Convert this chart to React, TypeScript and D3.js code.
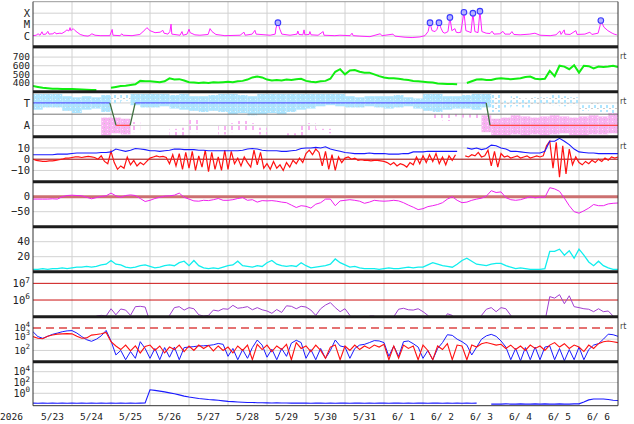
import React from 'react';
import * as d3 from 'd3';

type P = [number, number | null];

// ---------- labels ----------
const YEAR = '2026';
const DAYS = ['5/23', '5/24', '5/25', '5/26', '5/27', '5/28', '5/29', '5/30', '5/31', '6/ 1', '6/ 2', '6/ 3', '6/ 4', '6/ 5', '6/ 6'];
const xrayTickVals = [1e-4, 1e-5, 1e-6];
const xrayTickLabels = ['X', 'M', 'C'];
const speedTicks = [700, 600, 500, 400];
const speedGrid = [400, 500, 600, 700, 800];
const bzTicks = [10, 0, -10];
const dstTicks = [0, -50];
const denTicks = [40, 20];
const p6Exp = [7, 6];
const p7Exp = [4, 3, 2];
const p8Exp = [4, 2, 0];

// ---------- data (time in days from 5/23 00:00) ----------
const xrayFlux: [number, number][] = [
  [0, 1.1e-6], [0.08, 1.2e-6], [0.13, 1.6e-6], [0.18, 1.2e-6], [0.23, 2.4e-6], [0.26, 1.4e-6], [0.33, 1.5e-6], [0.38, 2.6e-6], [0.41, 1.5e-6], [0.51, 1.6e-6], [0.56, 2.2e-6], [0.59, 1.6e-6], [0.69, 1.8e-6], [0.74, 1.7e-6], [0.82, 2.5e-6], [0.87, 3.5e-6], [0.92, 2.8e-6], [0.95, 5.5e-6], [0.97, 3e-6],
  [1.03, 4.5e-6], [1.08, 3e-6], [1.13, 2.2e-6], [1.21, 1.4e-6], [1.31, 1.1e-6], [1.41, 1e-6], [1.46, 1.2e-6], [1.51, 1.6e-6], [1.59, 1.2e-6], [1.72, 1.1e-6], [1.97, 1.1e-6],
  [2.03, 3.8e-6], [2.05, 1.2e-6], [2.23, 1.1e-6], [2.28, 1.6e-6], [2.31, 1.2e-6], [2.54, 1.1e-6], [2.74, 1.4e-6], [2.87, 3.5e-6], [2.92, 5.5e-6],
  [3.0, 3e-6], [3.13, 2e-6], [3.26, 2.2e-6], [3.33, 3.2e-6], [3.36, 1.8e-6], [3.46, 1.5e-6], [3.51, 2.5e-6], [3.54, 1.1e-5], [3.56, 1.5e-6], [3.77, 1.2e-6], [3.82, 2.5e-6], [3.85, 1.2e-6], [3.95, 1.5e-6],
  [4.0, 4e-6], [4.03, 2e-6], [4.15, 1.3e-6], [4.28, 1.2e-6], [4.49, 1.4e-6], [4.54, 4.5e-6], [4.59, 2.5e-6], [4.69, 1.4e-6], [4.92, 1.1e-6],
  [5.31, 1.2e-6], [5.41, 2.2e-6], [5.44, 1.2e-6], [5.62, 1.5e-6], [5.69, 3.2e-6], [5.72, 1.5e-6],
  [6.08, 1.2e-6], [6.21, 1.5e-6], [6.23, 5e-6], [6.28, 1.5e-5], [6.33, 4e-6], [6.38, 1.5e-6], [6.59, 1.2e-6], [6.77, 1.5e-6], [6.79, 2.8e-6], [6.82, 1.4e-6], [6.92, 1.3e-6], [6.95, 3.5e-6], [6.97, 1.3e-6],
  [7.08, 1.4e-6], [7.1, 2.5e-6], [7.13, 1.3e-6], [7.31, 1.2e-6], [7.44, 2.5e-6], [7.46, 1.2e-6], [7.74, 1.1e-6], [7.87, 1.2e-6],
  [8.13, 1.1e-6], [8.18, 1.8e-6], [8.21, 1.1e-6], [8.38, 1e-6], [8.64, 9e-7], [8.9, 1.6e-6], [8.95, 1.1e-6],
  [9.23, 1.5e-6], [9.28, 1e-6], [9.54, 8e-7], [9.72, 7.5e-7], [9.92, 8.5e-7],
  [10.05, 1.1e-6], [10.13, 2.5e-6], [10.18, 1.5e-5], [10.23, 3e-6], [10.31, 2.5e-6], [10.36, 4e-6], [10.41, 1.5e-5], [10.46, 5e-6], [10.51, 2.2e-6], [10.56, 1.8e-6], [10.64, 2.5e-6], [10.69, 4.3e-5], [10.74, 3e-6], [10.82, 4.5e-6], [10.85, 2.2e-6], [10.9, 2e-6], [10.97, 2.2e-6],
  [11.05, 1.2e-4], [11.1, 3e-6], [11.18, 2.4e-6], [11.23, 2e-6], [11.28, 1e-4], [11.33, 2.5e-6], [11.41, 2e-6], [11.46, 1.5e-4], [11.51, 2.5e-6], [11.62, 1.8e-6], [11.72, 1.7e-6], [11.77, 2.7e-6], [11.82, 1.5e-6], [11.97, 1.6e-6],
  [12.05, 2.6e-6], [12.1, 1.5e-6], [12.23, 1.5e-6], [12.28, 2.5e-6], [12.33, 1.4e-6], [12.49, 1.3e-6], [12.74, 1.5e-6], [12.87, 1.8e-6],
  [13.0, 1.2e-6], [13.26, 1.1e-6], [13.41, 1.3e-6], [13.51, 2.8e-6], [13.54, 1.4e-6], [13.62, 3.5e-6], [13.64, 1.5e-6], [13.77, 1.4e-6], [13.92, 3e-6], [13.95, 1.4e-6],
  [14.15, 1.5e-6], [14.28, 2.2e-6], [14.33, 1.4e-6], [14.49, 1.8e-6], [14.54, 8e-6], [14.56, 2.3e-5], [14.64, 6e-6], [14.74, 3e-6], [14.85, 1.8e-6], [14.9, 1.5e-6], [14.97, 1.3e-6],
];

// 3-hourly (8 per day) + final point
const speed: (number | null)[] = [
  365, 355, 345, 340, 335, 335, 332, 330,
  330, 328, 325, 322, 320, 320, null, null,
  345, 355, 365, 370, 378, 385, 425, 420,
  420, 415, 410, 420, 455, 440, 445, 430,
  410, 405, 400, 405, 400, 410, 405, 410,
  415, 410, 420, 425, 440, 465, 475, 465,
  440, 430, 435, 430, 440, 435, 445, 450,
  425, 415, 410, 420, 425, 450, 530, 560,
  500, 545, 550, 530, 520, 520, 500, 480,
  465, 455, 455, 450, 440, 435, 425, 420,
  415, 410, 405, 395, 392, 390, 388, 385,
  null, 400, 420, 440, 445, 435, 435, 450,
  455, 450, 445, 450, 455, 470, 475, 450,
  445, 450, 540, 480, 600, 590, 560, 605,
  520, 600, 595, 570, 590, 585, 590, 600,
  585,
];

const bt: (number | null)[] = [
  4, 4, 4, 4, 4, 4.5, 4.5, 4.5,
  5, 5.5, 5.5, 5.5, 5.5, 5.5, 6, 6,
  6.5, 9, 8, 7, 8, 9.5, 9, 8.5,
  7.5, 7.5, 7, 7.5, 8, 9, 9, 8.5,
  8.5, 8.5, 8, 8, 7.5, 7.5, 7.5, 7.5,
  7.5, 7.5, 7.5, 8, 9, 9.5, 9, 8,
  7.5, 7.5, 7.5, 7, 7, 7.5, 8, 9.5,
  10, 10, 10.5, 10, 11, 9, 8, 7,
  6, 5.5, 5, 5, 5, 5.5, 5, 5,
  5, 4.5, 4.5, 4.5, 5, 5, 6.5, 6.5,
  6.5, 7, 7, 7, 7, 7, 7, 7,
  null, 10, 9, 10, 8.5, 9.5, 12.5, 12,
  10, 9, 7, 7, 6.5, 6, 5.5, 5.5,
  5.5, 7, 16, 16, 18.5, 16, 13, 9,
  6.5, 6, 5.5, 5.5, 5, 5, 5, 5,
  5,
];

// 2-hourly (12 per day) + final point
const bz: (number | null)[] = [
  0, -1, -1.5, -2, -2, -1.5, -1.5, -1, -0.5, 0, 1, 1,
  1.5, 2, 2, 1.5, 2, 2.5, 2, 1.5, 0, 3, -2, -4,
  7, -3, -9, -6, -8, 2, -5, -1, -6, -3, -5, -2,
  1, 2, 3, 2, 2.5, 1.5, -4, 4, -6, 5, -9, 6,
  -8, 7, -10, 3, -7, 8, -11, 6, -9, 2, -10, 8,
  -9, 7, -4, 1, -6, 2, -3, -7, 8, -5, 6, -8,
  -4, -9, -2, -8, -5, -10, -3, -7, -1, -4, 1, -3,
  5, 8, 4, 9, 6, -6, 7, -9, 4, -10, 2, -3,
  1, 2, 0, 1, -1, -0.5, -1, -1, -1.5, -1, -1, -1.5,
  -2, -3, -5, -3, -6, -4, -5, -7, -3, -5, 2, -4,
  3, -3, 4, -2, 5, -4, 2, -5, 3, -1, 4, null,
  null, 3, 2, 4, 3, 6, 2, 3, 8, -6, 7, -7,
  5, 2, 3, 1, 2, 3, 1, 2, 3, 1, 2, 3,
  2, 3, 12, 16, -8, 15, -16, 12, -13, 9, -5, 2,
  -3, -5, -2, -4, -1, -3, 0, -2, 1, -1, 2, 1,
  2,
];

const dst: (number | null)[] = [
  -8, -8, -8, -8, -7, -8, 0, 4,
  5, 4, 3, -2, -7, -3, 1, 3,
  12, 3, -2, 4, 6, 4, -6, -16,
  -12, -6, -2, 2, 3, 5, 12, -2,
  -8, -14, -15, -12, -13, -10, -6, -12,
  -12, -10, -6, -3, -12, -10, -18, -13,
  -14, -13, -15, -18, -20, -28, -36, -30,
  -32, -38, -25, -20, -8, -8, -30, -14,
  -12, -10, -12, -15, -22, -18, -12, -14,
  -15, -14, -12, -14, -20, -28, -35, -43,
  -40, -33, -30, -26, -20, -8, 0, -12,
  -20, -18, -12, -8, -5, 2, 20, 14,
  16, -3, -10, -12, -10, -5, 0, -4,
  -1, -2, 30, 26, 18, -5, -30, -50,
  -55, -47, -38, -26, -30, -30, -24, -22,
  -21,
];

const density: (number | null)[] = [
  3, 3, 4, 3, 4, 4, 5, 4,
  5, 6, 6, 7, 6, 7, 9, 10,
  15, 10, 9, 6, 5, 6, 8, 9,
  7, 5, 6, 8, 9, 8, 12, 14,
  8, 15, 8, 5, 4, 5, 4, 6,
  8, 9, 14, 8, 7, 6, 8, 7,
  12, 15, 10, 8, 7, 8, 7, 12,
  8, 5, 6, 7, 8, 10, 17, 12,
  9, 6, 7, 5, 4, 4, 4, 3,
  4, 5, 4, 4, 5, 6, 5, 6,
  6, 9, 12, 10, 8, 7, 6, 10,
  15, 18, 14, 10, 9, 8, 10, 11,
  11, 8, 6, 4, 5, 4, 3, 3,
  3, 4, 27, 27, 30, 22, 28, 18,
  30, 22, 13, 8, 14, 8, 5, 3,
  3,
];

const purple: (number | null)[] = [
  5e4, 5e4, 5e4, 5e4, 5e4, 5e4, 5e4, 5e4,
  5e4, 5e4, 5e4, 1.1e5, 5e4, 1.1e5, 1.2e5, 1.1e5,
  3e5, 1.3e5, 2.9e5, 2.5e5, 1.2e5, 4e5, 4.2e5, 3.8e5,
  5e4, 5e4, 5e4, 5e4, 1.2e5, 3.5e5, 4e5, 2.5e5,
  3.5e5, 3e5, 1.3e5, 1.1e5, 1.2e5, 2.5e5, 2.2e5, 3e5,
  2.8e5, 4.8e5, 3.2e5, 3.5e5, 4e5, 2.6e5, 3.5e5, 2.6e5,
  2.2e5, 1.6e5, 2.7e5, 1.8e5, 4.5e5, 4.2e5, 3e5, 4.2e5,
  3.8e5, 2.5e5, 1.2e5, 3e5, 5e5, 7e5, 3.5e5, 2e5,
  3e5, 1.2e5, 5e4, 5e4, 5e4, 1.1e5, 1.1e5, 5e4,
  5e4, 5e4, 1e5, 2.8e5, 3.2e5, 2.6e5, 2.5e5, 3e5,
  2e5, 1.2e5, 5e4, 5e4, 5e4, 1.5e5, 1.2e5, 5e4,
  5e4, 5e4, 5e4, 5e4, 1.2e5, 2.8e5, 3.5e5, 2e5,
  3.5e5, 3e5, 1.2e5, 5e4, 5e4, 5e4, 5e4, 5e4,
  5e4, 5e4, 1.6e6, 1.3e6, 2.1e6, 6e5, 1.8e6, 4e5,
  3.5e5, 3e5, 2.8e5, 2e5, 3e5, 2e5, 2.2e5, 1.1e5,
  5e4,
];

const fluxBlue: (number | null)[] = [
  4.6e3, 1.7e3, 1.2e3, 1.8e3, 2.7e3, 3.5e3, 4.6e3, 5.5e3,
  5.8e3, 3.5e3, 1.7e3, 900, 650, 1e3, 2e3, 6e3,
  700, 40, 100, 15, 80, 20, 600, 150,
  20, 150, 15, 180, 25, 200, 15, 180,
  200, 220, 250, 260, 280, 320, 420, 350,
  30, 150, 15, 120, 20, 180, 850, 300,
  25, 130, 15, 150, 30, 450, 800, 500,
  20, 120, 15, 150, 20, 100, 850, 250,
  200, 20, 150, 300, 350, 500, 750, 700,
  500, 30, 250, 30, 600, 700, 400, 200,
  20, 100, 15, 150, 500, 2.5e3, 2.2e3, 1e3,
  600, 300, 40, 200, 1e3, 2e3, 2.7e3, 1.8e3,
  700, 200, 15, 150, 12, 180, 15, 200,
  15, 200, 250, 15, 150, 12, 120, 15,
  200, 15, 120, 300, 400, 1e3, 2.8e3, 2.5e3,
  1.8e3,
];

const fluxRed: (number | null)[] = [
  1.7e3, 1.2e3, 1.1e3, 1.8e3, 2.4e3, 2.8e3, 3e3, 3.1e3,
  3e3, 1.8e3, 1.2e3, 1.3e3, 2.3e3, 2.6e3, 3e3, 4e3,
  600, 250, 120, 300, 90, 250, 60, 220,
  300, 100, 250, 60, 200, 120, 300, 80,
  250, 100, 300, 150, 280, 90, 250, 100,
  200, 60, 250, 100, 300, 15, 350, 120,
  300, 80, 250, 120, 350, 15, 500, 150,
  250, 80, 300, 100, 20, 200, 300, 15,
  250, 100, 300, 120, 250, 150, 300, 200,
  350, 15, 250, 20, 300, 150, 250, 15,
  300, 100, 15, 250, 120, 400, 15, 300,
  250, 15, 300, 200, 400, 500, 400, 300,
  350, 150, 300, 120, 250, 100, 300, 150,
  250, 100, 300, 500, 200, 400, 150, 300,
  200, 80, 300, 150, 400, 600, 700, 600,
  500,
];

const protonLow: (number | null)[] = [
  0.015, 0.014, 0.016, 0.014, 0.015, 0.014, 0.015, 0.014,
  0.015, 0.014, 0.016, 0.014, 0.015, 0.014, 0.015, 0.014,
  0.015, 0.014, 0.016, 0.014, 0.015, 0.014, 0.015, 0.016,
  4.5, 3.5, 2.5, 1.8, 1.2, 0.8, 0.5, 0.3,
  0.2, 0.15, 0.11, 0.09, 0.07, 0.06, 0.05, 0.04,
  0.032, 0.028, 0.025, 0.022, 0.02, 0.02, 0.018, 0.018,
  0.017, 0.016, 0.017, 0.016, 0.016, 0.015, 0.016, 0.015,
  0.015, 0.014, 0.015, 0.016, 0.014, 0.015, 0.014, 0.015,
  0.015, 0.014, 0.015, 0.016, 0.014, 0.015, 0.014, 0.015,
  0.015, 0.014, 0.015, 0.016, 0.014, 0.015, 0.014, 0.015,
  0.015, 0.014, 0.015, 0.016, 0.014, 0.015, 0.014, 0.015,
  0.014, 0.015, 0.014, 0.015, null, null, 0.01, 0.01,
  0.01, 0.011, 0.01, 0.01, 0.011, 0.01, 0.01, 0.011,
  0.01, 0.011, 0.01, 0.01, 0.011, 0.01, 0.01, 0.011,
  0.011, 0.025, 0.06, 0.09, 0.09, 0.085, 0.07, 0.05,
  0.045,
];

// IMF sector clouds, 6-hourly bins [lo, hi, dense?]; T = +1, A = -1
const towardBand: ([number, number, number] | null)[] = [
  [0.4, 1.8, 1], [0.6, 1.8, 1], [0.6, 1.8, 1], [0.3, 1.6, 1],
  [0.1, 1.5, 1], [0.4, 1.6, 1], [0.5, 1.5, 1], [0.2, 1.7, 1],
  [1.0, 1.8, 0], [1.2, 1.8, 0], [0.8, 1.8, 1], [0.6, 1.8, 1],
  [0.6, 1.8, 1], [0.7, 1.8, 1], [0.5, 1.7, 1], [0.4, 1.8, 1],
  [0.3, 1.6, 1], [0.2, 1.6, 1], [0.3, 1.7, 1], [0.2, 1.8, 1],
  [0.0, 1.8, 1], [0.1, 1.7, 1], [-0.1, 1.6, 1], [0.0, 1.8, 1],
  [0.1, 1.8, 1], [0.0, 1.8, 1], [0.2, 1.8, 1], [0.4, 1.8, 1],
  [0.5, 1.8, 1], [0.7, 1.8, 1], [0.8, 1.8, 1], [0.7, 1.8, 1],
  [0.6, 1.6, 1], [0.6, 1.5, 1], [0.7, 1.6, 1], [0.6, 1.6, 1],
  [0.5, 1.6, 1], [0.6, 1.7, 1], [0.7, 1.5, 1], [0.5, 1.4, 1],
  [0.3, 1.8, 1], [0.2, 1.8, 1], [0.4, 1.6, 1], [0.5, 1.6, 1],
  [0.5, 1.7, 1], [0.4, 1.8, 1], [0.6, 1.8, 1], [0.2, 1.8, 0],
  [0.6, 1.2, 0], [0.7, 1.6, 0], [0.6, 1.4, 0], [0.9, 1.5, 0],
  [0.9, 1.5, 0], [0.8, 1.7, 0], [0.7, 1.6, 0], [0.8, 1.5, 0],
  [0.3, 0.8, 0], [0.4, 1.0, 0], [0.2, 0.9, 0], [0.1, 0.9, 0],
];
const awayBand: ([number, number, number] | null)[] = [
  null, null, null, null,
  null, null, null, [-1.9, -0.3, 1],
  [-1.7, -0.3, 1], [-1.8, -0.4, 1], [-1.6, -0.7, 0], null,
  null, null, [-1.9, -1.3, 0], [-1.9, -1.2, 0],
  [-1.6, -0.5, 0], null, null, [-1.8, -1.0, 0],
  [-1.6, -0.8, 0], [-1.5, -0.6, 0], [-1.5, -0.8, 0], [-1.8, -1.2, 0],
  null, null, [-1.9, -1.7, 0], [-1.9, -1.0, 0],
  [-1.5, -0.8, 0], [-1.5, -1.3, 0], [-1.7, -1.3, 0], null,
  null, null, null, null,
  null, null, null, null,
  null, [-0.4, 0.0, 0], [-0.6, 0.1, 0], [-0.2, 0.1, 0],
  [-0.3, 0.0, 0], [-0.5, 0.0, 0], [-1.6, -0.1, 1], [-1.9, -0.4, 1],
  [-1.9, -0.3, 1], [-1.8, -0.1, 1], [-1.9, -0.2, 1], [-1.8, -0.3, 1],
  [-1.9, -0.2, 1], [-1.8, -0.1, 1], [-1.7, -0.2, 1], [-1.9, -0.3, 1],
  [-1.9, -0.2, 1], [-1.8, -0.1, 1], [-1.8, -0.2, 1], [-1.7, 0.1, 1],
];
const sectorLine: [number, number][] = [
  [0, 1], [1.97, 1], [2.13, -1], [2.49, -1], [2.62, 1], [11.62, 1], [11.72, -1], [15, -1],
];

// ---------- layout ----------
const X0 = 33;
const X1 = 618;
const top = (i: number) => 1.7 + 45 * i;
const bot = (i: number) => (i === 8 ? 405.7 : 1.7 + 45 * (i + 1));
const FONT = "'DejaVu Sans Mono', monospace";
const GRID = '#d2d2d2';

const grid = (vals: (number | null)[], perDay: number): P[] => vals.map((v, i) => [i / perDay, v]);

export default function App() {
  const x = d3.scaleLinear().domain([0, 15]).range([X0, X1]);
  const yX = d3.scaleLog().domain([1.2e-7, 1e-3]).range([bot(0), top(0)]);
  const yS = d3.scaleLinear().domain([300, 820]).range([bot(1), top(1)]);
  const yTA = d3.scaleLinear().domain([-2, 2]).range([bot(2), top(2)]);
  const yB = d3.scaleLinear().domain([-20, 20]).range([bot(3), top(3)]);
  const yD = d3.scaleLinear().domain([-100, 50]).range([bot(4), top(4)]);
  const yN = d3.scaleLinear().domain([0, 60]).range([bot(5), top(5)]);
  const y6 = d3.scaleLog().domain([1e5, 5e7]).range([bot(6), top(6)]);
  const y7 = d3.scaleLog().domain([10, 1e5]).range([bot(7), top(7)]);
  const y8 = d3.scaleLog().domain([Math.pow(10, -2.3), Math.pow(10, 5.85)]).range([bot(8), top(8)]);

  const mk = (ys: (v: number) => number) =>
    d3
      .line<P>()
      .defined((d) => d[1] != null)
      .x((d) => x(d[0]))
      .y((d) => ys(d[1] as number));

  const xrayPath = mk(yX)(xrayFlux as P[]) || '';
  const flares = xrayFlux.filter((d) => d[1] >= 1.4e-5);

  const hline = (y: number, stroke: string, w = 1, dash?: string, key?: string) => (
    <line key={key} x1={X0} x2={X1} y1={y} y2={y} stroke={stroke} strokeWidth={w} strokeDasharray={dash} />
  );
  const label = (yy: number, t: string, key: string, fs = 10.5) => (
    <text key={key} x={30} y={yy + fs * 0.35} textAnchor="end" fontFamily={FONT} fontSize={fs} fill="#222">
      {t}
    </text>
  );
  const powLabel = (yy: number, e: number, key: string, fs = 10.5) => (
    <text key={key} x={30} y={yy + fs * 0.36} textAnchor="end" fontFamily={FONT} fontSize={fs} fill="#222">
      10<tspan dy={-4.5} fontSize={fs * 0.75}>{e}</tspan>
    </text>
  );

  const bandRects = (band: ([number, number, number] | null)[], color: string) =>
    band.map((b, i) =>
      b ? (
        <rect
          key={color + i}
          x={x(i / 4)}
          width={x((i + 1) / 4) - x(i / 4)}
          y={yTA(b[1])}
          height={yTA(b[0]) - yTA(b[1])}
          fill={`url(#${color}${b[2] ? 'D' : 'S'})`}
        />
      ) : null,
    );

  const sectorSegs = sectorLine.slice(1).map((p, i) => {
    const a = sectorLine[i];
    const col = a[1] === 1 && p[1] === 1 ? '#5a5aff' : a[1] === -1 && p[1] === -1 ? '#ff4a4a' : '#3f6f3f';
    return <line key={'sec' + i} x1={x(a[0])} x2={x(p[0])} y1={yTA(a[1])} y2={yTA(p[1])} stroke={col} strokeWidth={1.3} />;
  });

  return (
    <div style={{ position: 'fixed', left: 0, top: 0 }}>
      <svg width={634} height={424} style={{ display: 'block', background: '#fff' }}>
        <defs>
          {Array.from({ length: 9 }, (_, i) => (
            <clipPath id={'c' + i} key={'c' + i}>
              <rect x={X0} y={top(i)} width={X1 - X0} height={bot(i) - top(i)} />
            </clipPath>
          ))}
          <pattern id="blueD" width={5} height={4} patternUnits="userSpaceOnUse">
            <rect x={0} y={0} width={5} height={4} fill="#ade5ff" />
            <rect x={3} y={2} width={1} height={1} fill="#c4d4dc" />
            <rect x={0} y={3} width={1} height={1} fill="#e4f6ff" />
          </pattern>
          <pattern id="blueS" width={6} height={5} patternUnits="userSpaceOnUse">
            <rect x={0} y={0} width={2} height={3} fill="#ade5ff" />
            <rect x={3} y={3} width={2} height={1} fill="#cccccc" />
          </pattern>
          <pattern id="pinkD" width={5} height={4} patternUnits="userSpaceOnUse">
            <rect x={0} y={0} width={5} height={4} fill="#f8b2f2" />
            <rect x={2} y={1} width={1} height={1} fill="#fde6fb" />
            <rect x={4} y={3} width={1} height={1} fill="#d0c4cc" />
          </pattern>
          <pattern id="pinkS" width={7} height={6} patternUnits="userSpaceOnUse">
            <rect x={0} y={0} width={2} height={4} fill="#f8b2f2" />
          </pattern>
        </defs>

        {/* vertical day grid */}
        {d3.range(1, 15).map((d) => (
          <line key={'vg' + d} x1={x(d)} x2={x(d)} y1={top(0)} y2={bot(8)} stroke={GRID} strokeWidth={1} />
        ))}

        {/* horizontal grid */}
        {xrayTickVals.map((v, i) => hline(yX(v), GRID, 1, undefined, 'gx' + i))}
        {speedGrid.map((v, i) => hline(yS(v), GRID, 1, undefined, 'gs' + i))}
        {[1, -1].map((v, i) => hline(yTA(v), GRID, 1, undefined, 'gt' + i))}
        {[10, -10].map((v, i) => hline(yB(v), GRID, 1, undefined, 'gb' + i))}
        {[-50].map((v, i) => hline(yD(v), GRID, 1, undefined, 'gd' + i))}
        {[20, 40].map((v, i) => hline(yN(v), GRID, 1, undefined, 'gn' + i))}
        {[2, 3].map((e, i) => hline(y7(Math.pow(10, e)), GRID, 1, undefined, 'g7' + i))}
        {[0, 2, 4].map((e, i) => hline(y8(Math.pow(10, e)), GRID, 1, undefined, 'g8' + i))}

        {/* panel 0: X-ray */}
        <g clipPath="url(#c0)">
          <path d={xrayPath} fill="none" stroke="#ff22ff" strokeWidth={1} />
          {flares.map((f, i) => (
            <circle key={'fl' + i} cx={x(f[0])} cy={yX(f[1])} r={2.8} fill="#b4b4ff" stroke="#3a3aff" strokeWidth={1.1} />
          ))}
        </g>

        {/* panel 1: speed */}
        <g clipPath="url(#c1)">
          <path d={mk(yS)(grid(speed, 8)) || ''} fill="none" stroke="#11ee11" strokeWidth={2} />
        </g>

        {/* panel 2: sector */}
        <g clipPath="url(#c2)">
          {bandRects(towardBand, 'blue')}
          {bandRects(awayBand, 'pink')}
          {hline(yTA(0), '#777', 1, undefined, 'mid')}
          {sectorSegs}
        </g>

        {/* panel 3: IMF */}
        <g clipPath="url(#c3)">
          {hline(yB(0), '#990000', 1, undefined, 'bz0')}
          <path d={mk(yB)(grid(bz, 12)) || ''} fill="none" stroke="#ff1111" strokeWidth={1.2} />
          <path d={mk(yB)(grid(bt, 8)) || ''} fill="none" stroke="#1a1aff" strokeWidth={1.1} />
        </g>

        {/* panel 4: Dst */}
        <g clipPath="url(#c4)">
          {hline(yD(0), '#cc7070', 3, undefined, 'd0')}
          <path d={mk(yD)(grid(dst, 8)) || ''} fill="none" stroke="#ee22ee" strokeWidth={1} />
        </g>

        {/* panel 5: density */}
        <g clipPath="url(#c5)">
          <path d={mk(yN)(grid(density, 8)) || ''} fill="none" stroke="#11eeee" strokeWidth={1.3} />
        </g>

        {/* panel 6 */}
        <g clipPath="url(#c6)">
          {hline(y6(1e7), '#cc1111', 1, undefined, 'r7')}
          {hline(y6(1e6), '#cc1111', 1, undefined, 'r6')}
          <path d={mk(y6)(grid(purple, 8)) || ''} fill="none" stroke="#a040d0" strokeWidth={1} />
        </g>

        {/* panel 7 */}
        <g clipPath="url(#c7)">
          {hline(y7(1e4), '#dd4444', 1.4, '8,5', 'dash')}
          <path d={mk(y7)(grid(fluxBlue, 8)) || ''} fill="none" stroke="#1a1aff" strokeWidth={1} />
          <path d={mk(y7)(grid(fluxRed, 8)) || ''} fill="none" stroke="#ff1111" strokeWidth={1.1} />
        </g>

        {/* panel 8 */}
        <g clipPath="url(#c8)">
          <path d={mk(y8)(grid(protonLow, 8)) || ''} fill="none" stroke="#1a1aff" strokeWidth={1.1} />
        </g>

        {/* frame */}
        <line x1={X0} x2={X1} y1={top(0)} y2={top(0)} stroke="#999" strokeWidth={1} />
        <line x1={X0} x2={X0} y1={top(0)} y2={bot(8)} stroke="#333" strokeWidth={1} />
        <line x1={X1} x2={X1} y1={top(0)} y2={bot(8)} stroke="#333" strokeWidth={1} />
        <line x1={X0} x2={X1} y1={bot(8)} y2={bot(8)} stroke="#333" strokeWidth={1} />
        {d3.range(0, 8).map((i) => (
          <line key={'sep' + i} x1={X0} x2={X1} y1={bot(i)} y2={bot(i)} stroke="#1c1c1c" strokeWidth={3} />
        ))}

        {/* y labels */}
        {xrayTickVals.map((v, i) => label(yX(v), xrayTickLabels[i], 'lx' + i))}
        {speedTicks.map((v, i) => label(yS(v), String(v), 'ls' + i, 9.5))}
        {label(yTA(1), 'T', 'lt')}
        {label(yTA(-1), 'A', 'la')}
        {bzTicks.map((v, i) => label(yB(v), v < 0 ? '−' + Math.abs(v) : String(v), 'lb' + i))}
        {dstTicks.map((v, i) => label(yD(v), v < 0 ? '−' + Math.abs(v) : String(v), 'ld' + i))}
        {denTicks.map((v, i) => label(yN(v), String(v), 'ln' + i))}
        {p6Exp.map((e, i) => powLabel(y6(Math.pow(10, e)), e, 'p6' + i))}
        {p7Exp.map((e, i) => powLabel(y7(Math.pow(10, e)) - (e === 3 ? 3 : 0), e, 'p7' + i, 9.5))}
        {p8Exp.map((e, i) => powLabel(y8(Math.pow(10, e)), e, 'p8' + i, 10))}

        {/* rt markers */}
        {[1, 2, 3, 7].map((i) => (
          <text key={'rt' + i} x={620} y={top(i) + 12.5} fontFamily="'DejaVu Sans', sans-serif" fontSize={8} fill="#444">
            rt
          </text>
        ))}

        {/* x labels */}
        <text x={11.5} y={420} textAnchor="middle" fontFamily={FONT} fontSize={9.5} fill="#222">
          {YEAR}
        </text>
        {DAYS.map((d, i) => (
          <text key={'dl' + i} x={x(i + 0.5)} y={420} textAnchor="middle" fontFamily={FONT} fontSize={9.5} fill="#222" style={{ whiteSpace: 'pre' }}>
            {d}
          </text>
        ))}
      </svg>
    </div>
  );
}
